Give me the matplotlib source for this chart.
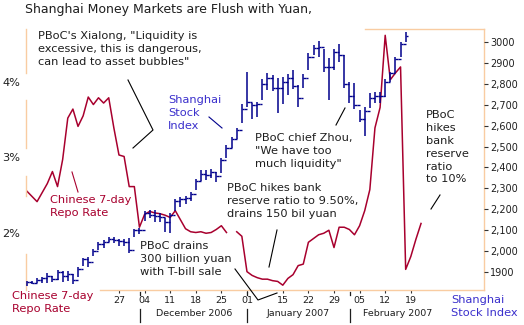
import numpy as np
import matplotlib.pyplot as plt
from matplotlib.lines import Line2D
from matplotlib.transforms import blended_transform_factory

# Shanghai index, daily bars (trading day index 0 = 1 Nov 2006)
stock_high = [1857, 1857, 1871, 1876, 1895, 1881, 1910, 1905, 1905, 1891,
              1924, 1967, 1972, 2010, 2043, 2053, 2067, 2067, 2058, 2058,
              2063, 2106, 2110, 2192, 2197, 2197, 2182, 2158, 2182, 2249,
              2259, 2264, 2283, 2345, 2388, 2388, 2393, 2378, 2445, 2508,
              2546, 2589, 2704, 2857, 2708, 2713, 2823, 2852, 2842, 2828,
              2833, 2847, 2866, 2794, 2847, 2947, 2986, 3005, 2967, 2923,
              2967, 2990, 2938, 2809, 2804, 2675, 2689, 2756, 2761, 2761,
              2823, 2857, 2928, 3000, 3048]
stock_low = [1833, 1843, 1847, 1847, 1847, 1852, 1862, 1852, 1857, 1843,
             1876, 1929, 1924, 1977, 2005, 2015, 2043, 2039, 2024, 2024,
             1991, 2067, 2082, 2144, 2158, 2139, 2139, 2091, 2087, 2192,
             2211, 2225, 2240, 2292, 2335, 2340, 2350, 2331, 2374, 2445,
             2493, 2536, 2613, 2689, 2632, 2641, 2723, 2770, 2766, 2660,
             2704, 2747, 2775, 2689, 2780, 2866, 2938, 2928, 2857, 2723,
             2866, 2904, 2780, 2708, 2680, 2617, 2550, 2684, 2708, 2708,
             2737, 2809, 2852, 2928, 3000]
stock_close = [1850, 1848, 1862, 1870, 1880, 1865, 1900, 1880, 1890, 1860,
               1915, 1960, 1950, 2000, 2035, 2045, 2060, 2055, 2050, 2045,
               2005, 2099, 2100, 2180, 2175, 2170, 2165, 2140, 2175, 2240,
               2250, 2255, 2275, 2335, 2370, 2365, 2380, 2360, 2435, 2495,
               2535, 2580, 2680, 2715, 2700, 2705, 2800, 2830, 2780, 2780,
               2810, 2830, 2790, 2730, 2830, 2930, 2970, 2975, 2880, 2880,
               2950, 2940, 2800, 2740, 2700, 2630, 2670, 2730, 2740, 2740,
               2810, 2850, 2920, 2990, 3030]

# Chinese 7-day repo rate, %
repo_rate = [2.55, 2.48, 2.41, 2.53, 2.65, 2.81, 2.61, 2.97, 3.52, 3.64,
             3.41, 3.55, 3.80, 3.70, 3.79, 3.72, 3.79, 3.39, 3.03, 3.01,
             2.61, 2.61, 2.07, 2.24, 2.28, 2.26, 2.25, 2.23, 2.20, 2.29,
             2.17, 2.05, 2.01, 2.00, 2.01, 1.99, 2.00, 2.04, 2.09, 2.00,
             np.nan, 2.01, 1.95, 1.48, 1.43, 1.40, 1.38, 1.38, 1.36, 1.35,
             1.30, 1.39, 1.44, 1.56, 1.58, 1.87, 1.92, 1.97, 1.99, 2.03,
             1.80, 2.07, 2.07, 2.04, 1.97, 2.09, 2.29, 2.57, 3.39, 3.66,
             4.62, 4.03, 4.12, 4.20, 1.51, 1.68, 1.91, 2.12]

day_ticks = [18, 23, 28, 33, 38, 43, 50, 55, 60, 65, 70, 75]
day_labels = ['27', '04', '11', '18', '25', '01', '15', '22', '29', '05', '12', '19']
month_breaks = [22.1, 43.0, 63.2]
month_names = ['December 2006', 'January 2007', 'February 2007']
month_centres = [32.6, 53.0, 72.5]

rate_ticks = [2, 3, 4]
rate_labels = ['2%', '3%', '4%']
index_ticks = [1900, 2000, 2100, 2200, 2300, 2400, 2500, 2600, 2700, 2800, 2900, 3000]
index_labels = ['1900', '2,000', '2,100', '2,200', '2,300', '2,400', '2,500',
                '2,600', '2,700', '2,800', '2900', '3000']

red = '#a8002e'
navy = '#00008c'
blue = '#3a2fcc'
frame = '#f9cca2'
dark = '#1e1e1e'

W, H = 524, 325
fig = plt.figure(figsize=(W / 100, H / 100), dpi=100)
ax = fig.add_axes([26 / W, 35 / H, 458 / W, 261 / H])
ax2 = ax.twinx()


def fx(x, y):
    return x / W, 1 - y / H


days = np.arange(len(stock_high))
ax2.vlines(days, stock_low, stock_high, color=navy, lw=1.1)
ax2.hlines(stock_close, days, days + 0.5, color=navy, lw=1.0)
ax2.hlines(stock_close[:-1], days[1:] - 0.5, days[1:], color=navy, lw=1.0)

ax.plot(np.arange(len(repo_rate)), repo_rate, color=red, lw=1.1)

ax.set_xlim(-0.16, 89.3)
ax.set_ylim(1.236, 4.704)
ax2.set_ylim(1814, 3062)

for a in (ax, ax2):
    for s in a.spines.values():
        s.set_visible(False)

# frame pieces that are not covered by the text boxes
ta = ax.transAxes
for xs, ys in [([0.740, 1], [1, 1]), ([1, 1], [0, 1]), ([0.1616, 1], [0, 0]),
               ([0, 0], [1, 0.8314]), ([0, 0], [0.728, 0.544]),
               ([0, 0], [0.437, 0.360]), ([0, 0], [0.138, 0])]:
    ax.plot(xs, ys, color=frame, lw=1.0, transform=ta, clip_on=False)

ax.set_yticks(rate_ticks)
ax.set_yticklabels(rate_labels)
ax.tick_params(axis='y', length=0, pad=4.3, labelsize=8.2, labelcolor=dark)
ax2.set_yticks(index_ticks)
ax2.set_yticklabels(index_labels)
ax2.tick_params(axis='y', length=3, width=0.8, color='#333333', pad=1.5,
                labelsize=7, labelcolor=dark)
ax.set_xticks(day_ticks)
ax.set_xticklabels(day_labels)
ax.tick_params(axis='x', length=2.2, width=0.8, color='#333333', pad=2,
               labelsize=6.8, labelcolor=dark)

bt = blended_transform_factory(ax.transData, ax.transAxes)
for m in month_breaks:
    ax.plot([m, m], [-0.0077, -0.019], color=dark, lw=0.9, transform=bt, clip_on=False)
    ax.plot([m, m], [-0.073, -0.123], color=dark, lw=0.9, transform=bt, clip_on=False)
for name, c in zip(month_names, month_centres):
    ax.text(c, -0.09, name, transform=bt, ha='center', va='center',
            fontsize=6.8, color=dark)

fs = 8.2
ls = 1.36
fig.text(*fx(25, 3), 'Shanghai Money Markets are Flush with Yuan,', fontsize=9,
         color=dark, va='top')
fig.text(*fx(38, 31), 'PBoC\'s Xialong, "Liquidity is\nexcessive, this is dangerous,\n'
         'can lead to asset bubbles"', fontsize=fs, color=dark, va='top', linespacing=ls)
fig.text(*fx(168, 95), 'Shanghai\nStock\nIndex', fontsize=fs, color=blue, va='top',
         linespacing=ls)
fig.text(*fx(255, 133), 'PBoC chief Zhou,\n"We have too\nmuch liquidity"', fontsize=fs,
         color=dark, va='top', linespacing=ls)
fig.text(*fx(227, 183), 'PBoC hikes bank\nreserve ratio to 9.50%,\ndrains 150 bil yuan',
         fontsize=fs, color=dark, va='top', linespacing=ls)
fig.text(*fx(140, 241), 'PBoC drains\n300 billion yuan\nwith T-bill sale', fontsize=fs,
         color=dark, va='top', linespacing=ls)
fig.text(*fx(426, 110), 'PBoC\nhikes\nbank\nreserve\nratio\nto 10%', fontsize=fs,
         color=dark, va='top', linespacing=ls)
fig.text(*fx(50, 195), 'Chinese 7-day\nRepo Rate', fontsize=fs, color=red, va='top',
         linespacing=ls)
fig.text(*fx(12, 291), 'Chinese 7-day\nRepo Rate', fontsize=fs, color=red, va='top',
         linespacing=ls)
fig.text(*fx(451, 295), 'Shanghai\nStock Index', fontsize=fs, color=blue, va='top',
         linespacing=ls)

# pointer lines
for pts, col in [([(128, 80), (153, 130), (133, 148)], 'black'),
                 ([(209, 117), (222, 128)], navy),
                 ([(336, 125), (345, 108)], 'black'),
                 ([(277, 230), (269, 267)], 'black'),
                 ([(235, 269), (258, 300), (277, 293)], 'black'),
                 ([(440, 195), (431, 209)], 'black'),
                 ([(72, 172), (78, 192)], red)]:
    xs = [p[0] / W for p in pts]
    ys = [1 - p[1] / H for p in pts]
    fig.add_artist(Line2D(xs, ys, color=col, lw=0.8, transform=fig.transFigure))

fig.savefig('out.png', dpi=100, facecolor='white')
